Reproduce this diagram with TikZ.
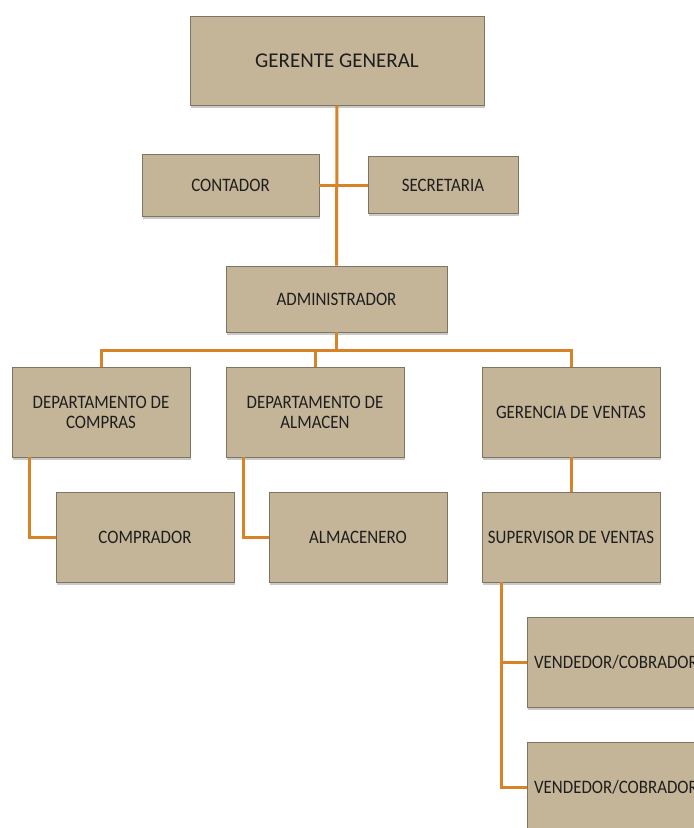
\documentclass[tikz,border=0pt]{standalone}
\usepackage{fontspec}
\setmainfont{Carlito}
\newfontfamily\boxfont[FakeStretch=0.89]{Carlito}
\usetikzlibrary{positioning, shadows}
\definecolor{boxtan}{HTML}{C4B599}
\definecolor{edgegray}{HTML}{7D7462}
\definecolor{linkorange}{HTML}{D98329}
\definecolor{txtdark}{HTML}{1E1E1E}

\begin{document}
\begin{tikzpicture}[
  x=1pt, y=-1pt,
  orgbox/.style={draw=edgegray, fill=boxtan, line width=0.8pt, inner sep=0pt,
                 align=center, text=txtdark, font=\boxfont\fontsize{19}{20}\selectfont,
                 minimum width=178pt, minimum height=90pt,
                 drop shadow={shadow xshift=1pt, shadow yshift=-2.5pt, opacity=0.35, fill=black!60}},
  link/.style={linkorange, line width=3pt},
]

% Canvas
\useasboundingbox (0,0) rectangle (694,828);
\clip (0,0) rectangle (694,828);
\fill[white] (0,0) rectangle (694,828);

% ============ Top level ============
\node[orgbox, minimum width=294pt, minimum height=89pt,
      font=\fontsize{21}{24}\selectfont] (gerente) at (337,60.5) {GERENTE GENERAL};

% Staff boxes
\node[orgbox, minimum width=177pt, minimum height=62pt] (contador) at (230.5,185) {CONTADOR};
\node[orgbox, minimum width=150pt, minimum height=57pt] (secretaria) at (443,185) {SECRETARIA};

\node[orgbox, minimum width=221pt, minimum height=66pt] (admin) at (336.5,299) {ADMINISTRADOR};

% ============ Departments ============
\node[orgbox] (compras) at (101,412) {DEPARTAMENTO DE\\COMPRAS};
\node[orgbox] (almacen) at (315,412) {DEPARTAMENTO DE\\ALMACEN};
\node[orgbox] (ventas) at (571,412) {GERENCIA DE VENTAS};

% Staff under departments
\node[orgbox] (comprador) at (145,537) {COMPRADOR};
\node[orgbox] (almacenero) at (358,537) {ALMACENERO};
\node[orgbox] (supervisor) at (571,537) {SUPERVISOR DE VENTAS};

\node[orgbox] (vend1) at (616,662) {VENDEDOR/COBRADOR};
\node[orgbox] (vend2) at (616,787) {VENDEDOR/COBRADOR};

% ============ Connectors ============
\draw[link] (gerente.south) -- (admin.north);
\draw[link] (contador.east) -- (secretaria.west);

\draw[link] (admin.south) -- ++(0,18) -| (compras.north);
\draw[link] (admin.south) -- ++(0,18) -| (almacen.north);
\draw[link] (admin.south) -- ++(0,18) -| (ventas.north);

\draw[link] ([xshift=18pt]compras.south west) |- (comprador.west);
\draw[link] ([xshift=18pt]almacen.south west) |- (almacenero.west);
\draw[link] (ventas.south) -- (supervisor.north);

\draw[link] ([xshift=20pt]supervisor.south west) |- (vend1.west);
\draw[link] ([xshift=20pt]supervisor.south west) |- (vend2.west);

\end{tikzpicture}
\end{document}
